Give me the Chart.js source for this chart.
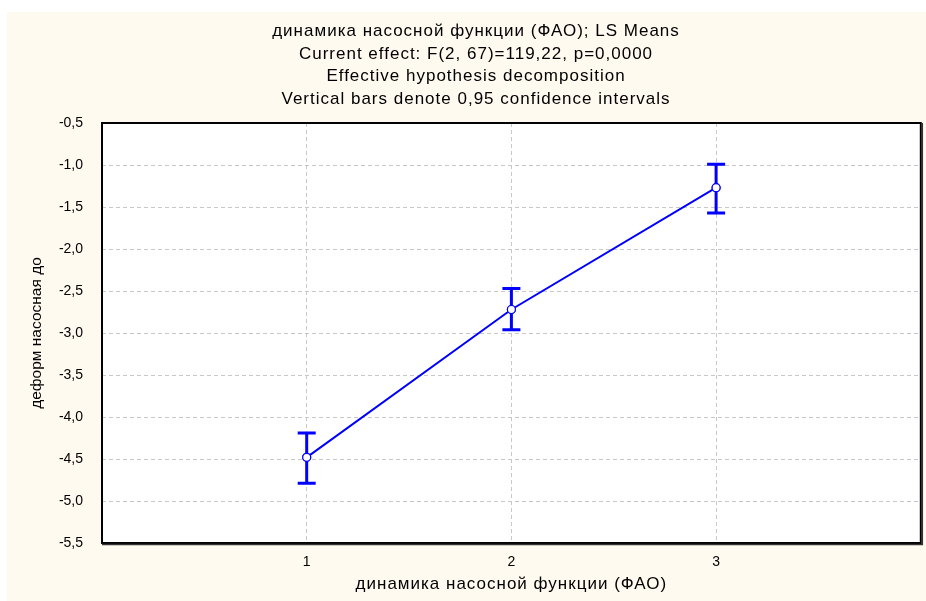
<!DOCTYPE html>
<html>
<head>
<meta charset="utf-8">
<script src="https://cdn.jsdelivr.net/npm/chart.js@4.4.0/dist/chart.umd.min.js"></script>
<style>
html,body{margin:0;padding:0;background:#fff;}
#wrap{position:absolute;left:0;top:0;width:926px;height:601px;}
</style>
</head>
<body>
<div id="wrap"><canvas id="c" width="926" height="601"></canvas></div>
<script>
// ---- data ----
const categories = [1, 2, 3];
const means = [-4.48, -2.72, -1.27];
const lowerCI = [-4.79, -2.96, -1.57];
const upperCI = [-4.19, -2.47, -0.99];
const xTickValues = [1, 2, 3];
const titleLines = [
  'динамика насосной функции (ФАО); LS Means',
  'Current effect: F(2, 67)=119,22, p=0,0000',
  'Effective hypothesis decomposition',
  'Vertical bars denote 0,95 confidence intervals'
];
const xTitle = 'динамика насосной функции (ФАО)';
const yTitle = 'деформ насосная до';

const FONT = '"Liberation Sans", Arial, sans-serif';

const bgPlugin = {
  id: 'bg',
  beforeDraw(chart) {
    const ctx = chart.ctx;
    ctx.save();
    ctx.fillStyle = '#ffffff';
    ctx.fillRect(0, 0, chart.width, chart.height);
    ctx.fillStyle = '#fffaf0';
    ctx.fillRect(7, 12, chart.width - 7, chart.height - 12);
    const a = chart.chartArea;
    ctx.fillStyle = '#ffffff';
    ctx.fillRect(a.left, a.top, a.right - a.left, a.bottom - a.top);
    ctx.restore();
  },
  afterDraw(chart) {
    const ctx = chart.ctx;
    const a = chart.chartArea;
    ctx.save();
    // frame
    ctx.strokeStyle = '#000';
    ctx.lineWidth = 2;
    ctx.strokeRect(a.left, a.top, a.right - a.left, a.bottom - a.top);
    ctx.strokeStyle = '#333';
    ctx.lineWidth = 1.5;
    ctx.beginPath();
    ctx.moveTo(a.right + 1.5, a.top);
    ctx.lineTo(a.right + 1.5, a.bottom + 1.5);
    ctx.lineTo(a.left, a.bottom + 1.5);
    ctx.stroke();
    // titles
    ctx.fillStyle = '#000';
    ctx.font = '17px ' + FONT;
    ctx.letterSpacing = '1px';
    ctx.textAlign = 'center';
    ctx.textBaseline = 'middle';
    const ys = [31, 54, 76, 99];
    titleLines.forEach((t, i) => ctx.fillText(t, 476, ys[i]));
    // x axis title
    ctx.fillText(xTitle, (a.left + a.right) / 2, 584);
    ctx.restore();
  }
};

const errPlugin = {
  id: 'errbars',
  afterDatasetsDraw(chart) {
    const ctx = chart.ctx;
    const xs = chart.scales.x, ys = chart.scales.y;
    ctx.save();
    ctx.strokeStyle = '#0000ff';
    ctx.lineWidth = 3;
    categories.forEach((c, i) => {
      const x = xs.getPixelForValue(c);
      const y1 = ys.getPixelForValue(lowerCI[i]);
      const y2 = ys.getPixelForValue(upperCI[i]);
      ctx.beginPath();
      ctx.moveTo(x, y1); ctx.lineTo(x, y2);
      ctx.moveTo(x - 9, y1); ctx.lineTo(x + 9, y1);
      ctx.moveTo(x - 9, y2); ctx.lineTo(x + 9, y2);
      ctx.stroke();
    });
    ctx.restore();
    // redraw points on top
    const meta = chart.getDatasetMeta(0);
    meta.data.forEach(p => p.draw(ctx, chart.chartArea));
  }
};

new Chart(document.getElementById('c'), {
  type: 'line',
  data: {
    datasets: [{
      data: categories.map((c, i) => ({ x: c, y: means[i] })),
      borderColor: '#0000ff',
      borderWidth: 2,
      pointRadius: 4,
      pointBackgroundColor: '#ffffff',
      pointBorderColor: '#0000ff',
      pointBorderWidth: 1.2,
      tension: 0
    }]
  },
  options: {
    responsive: false,
    animation: false,
    devicePixelRatio: 1,
    layout: { padding: { left: 0, top: 123, right: 5, bottom: 0 } },
    plugins: { legend: { display: false }, tooltip: { enabled: false }, title: { display: false } },
    scales: {
      x: {
        type: 'linear',
        min: 0, max: 4,
        afterBuildTicks(scale) { scale.ticks = xTickValues.map(v => ({ value: v })); },
        afterFit(scale) { scale.height = 58; },
        grid: { color: '#c8c8c8', drawTicks: false, lineWidth: 1 },
        border: { display: false, dash: [4, 3] },
        ticks: { color: '#000', font: { family: FONT, size: 14 }, padding: 11, callback: v => String(v) },
        title: { display: false, text: xTitle }
      },
      y: {
        min: -5.5, max: -0.5,
        ticks: { stepSize: 0.5, color: '#000', font: { family: FONT, size: 14 }, padding: 19,
          callback: v => v.toFixed(1).replace('.', ',') },
        afterFit(scale) { scale.width = 102; },
        grid: { color: '#c8c8c8', drawTicks: false, lineWidth: 1 },
        border: { display: false, dash: [4, 3] },
        title: { display: true, text: yTitle, color: '#000', font: { family: FONT, size: 15.5 }, padding: { top: 27, bottom: 0 } }
      }
    }
  },
  plugins: [bgPlugin, errPlugin]
});
</script>
</body>
</html>
